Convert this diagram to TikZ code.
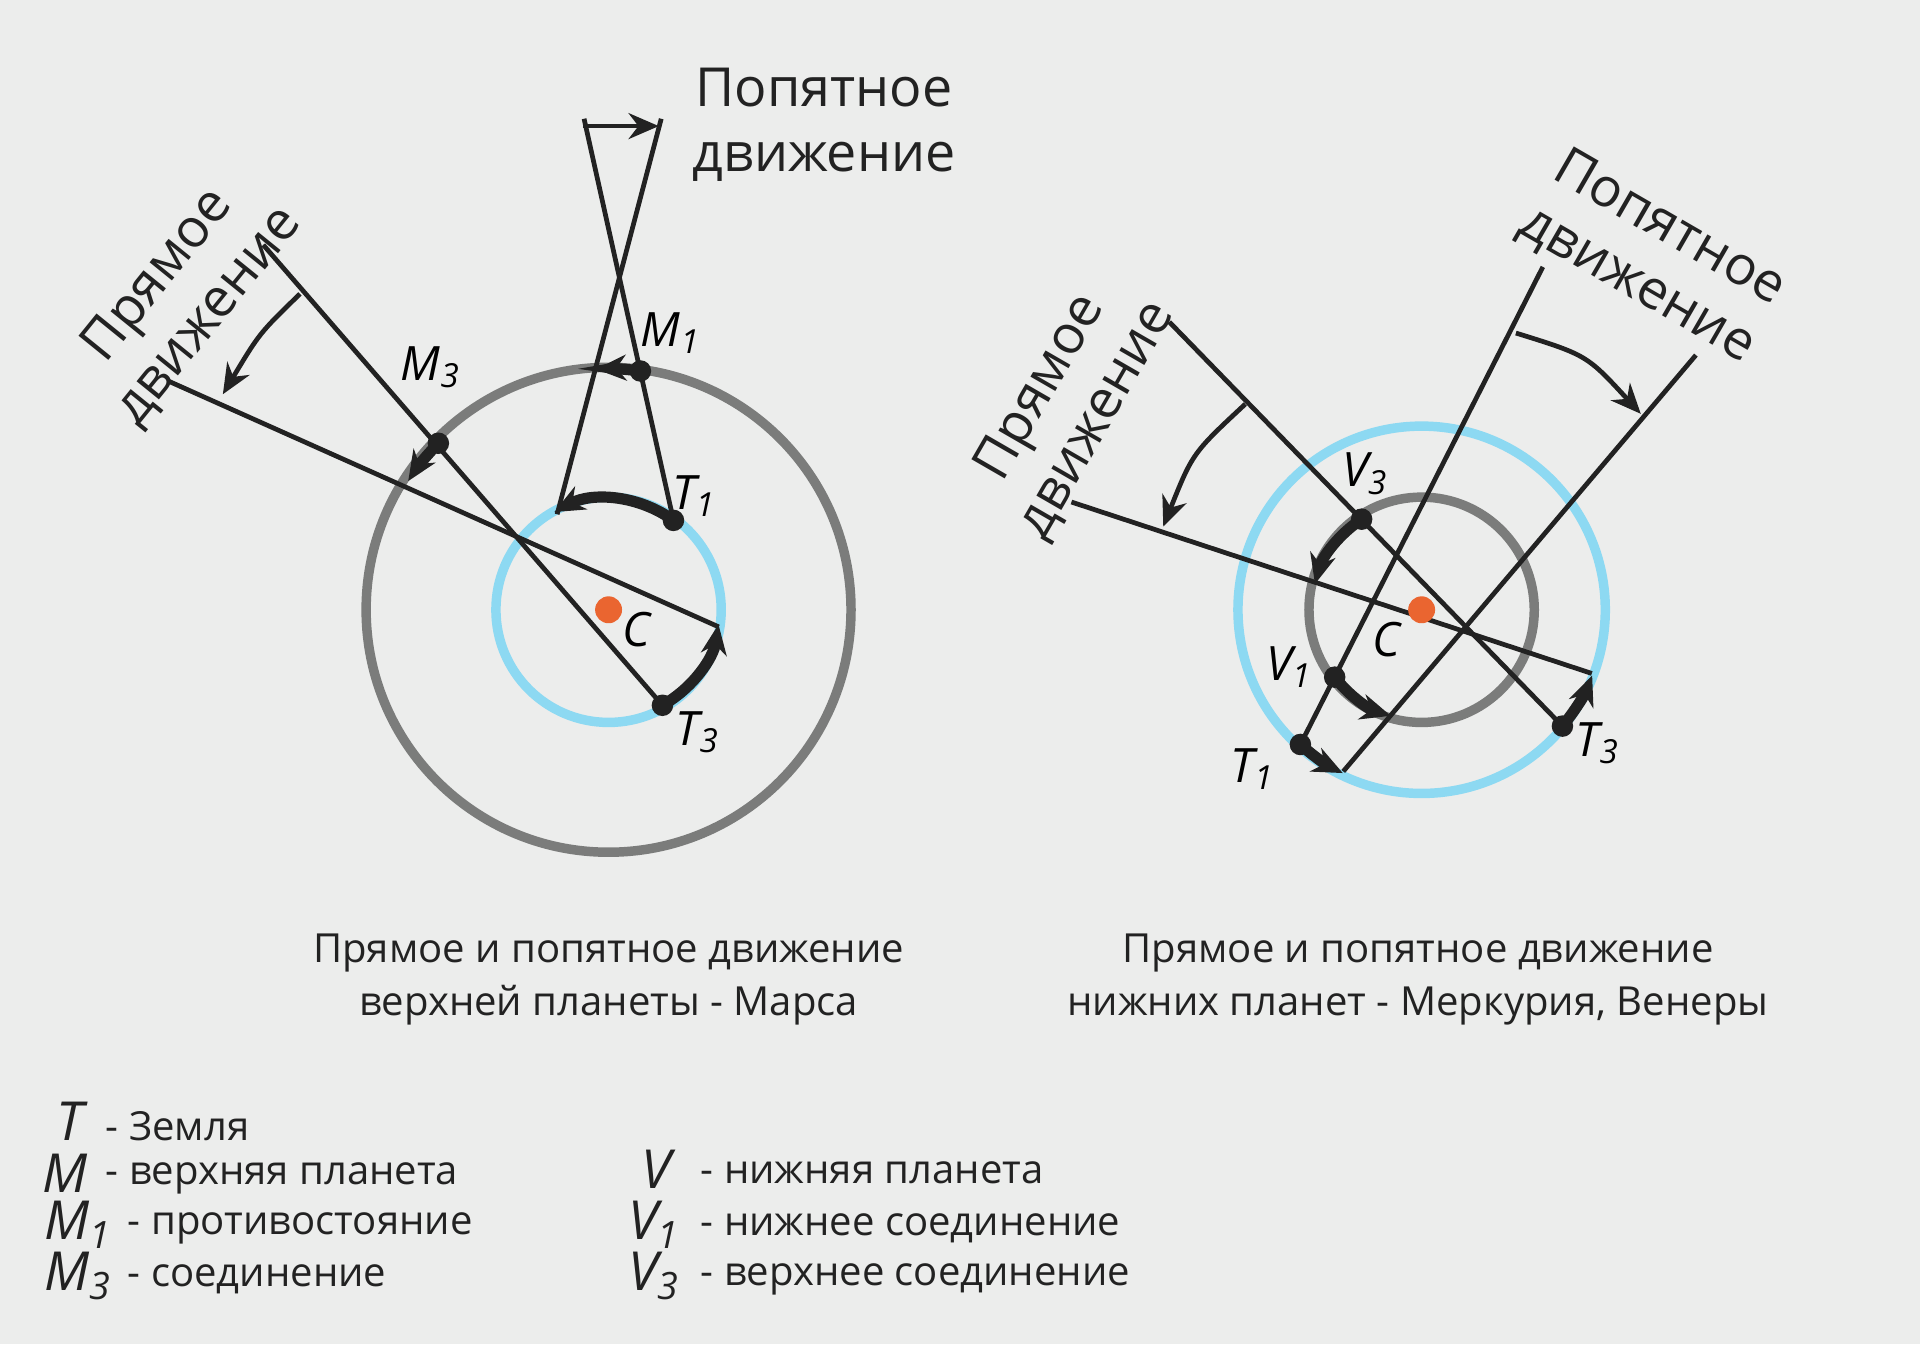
\documentclass[tikz,border=0pt]{standalone}
\usepackage{fontspec}
\setmainfont{Open Sans}
\usetikzlibrary{arrows.meta}
\definecolor{bg}{HTML}{ECEDEC}
\definecolor{sky}{HTML}{8DD9F2}
\definecolor{orb}{HTML}{7B7C7B}
\definecolor{sun}{HTML}{EA6530}
\definecolor{ink}{HTML}{222222}
\newcommand{\sbs}[1]{\textsubscript{#1}}
\begin{document}
\begin{tikzpicture}[x=0.01cm,y=-0.01cm,
  ln/.style={draw=ink,line width=1.1pt},
  thk/.style={draw=ink,line width=2.6pt,-{Stealth[length=7pt,width=6pt]}},
  swing/.style={draw=ink,line width=1.1pt,-{Stealth[length=7pt,width=6pt]}},
  dot/.style={circle,fill=ink,inner sep=0pt,minimum size=5pt},
  lab/.style={font=\fontsize{11}{13}\selectfont\itshape,inner sep=1pt},
  big/.style={font=\fontsize{12.5}{15}\selectfont,align=center,text=ink},
  captxt/.style={font=\fontsize{9.3}{12.5}\selectfont,align=center,text=ink},
  leg/.style={font=\fontsize{9.3}{10}\selectfont,anchor=west,text=ink},
  sym/.style={font=\fontsize{12.5}{13}\selectfont\itshape,anchor=east,text=ink,inner sep=1pt}]
\fill[bg] (0,0) rectangle (1568,1098);
% ---------- left diagram ----------
\coordinate (C) at (497,498);
\draw[orb,line width=2.2pt] (C) circle[radius=198];
\draw[sky,line width=2.2pt] (C) circle[radius=92];
\coordinate (T1) at (550,425); \coordinate (T3) at (541,576);
\coordinate (M1) at (523,303); \coordinate (M3) at (358,362);
\coordinate (a1) at (477,97); \coordinate (a2) at (540,97);
\coordinate (b1) at (455,420);
\coordinate (c1) at (215,200); \coordinate (c2) at (587,512); \coordinate (c3) at (137,311);
\draw[ln] (T1) -- (a1); \draw[ln] (b1) -- (a2);
\draw[ln] (T3) -- (c1); \draw[ln] (c2) -- (c3);
\draw[swing] (476,103) -- (538,103);
\draw[swing] (245,240) .. controls (212,272) .. (182,322);
\draw[thk] (M1) arc[start angle=-82.4,end angle=-92.9,radius=198];
\draw[thk] (M3) arc[start angle=-135.6,end angle=-147.3,radius=194];
\draw[thk] (T1) arc[start angle=-54,end angle=-118,radius=92];
\draw[thk] (T3) arc[start angle=60.6,end angle=8.8,radius=92];
\node[dot] at (T1) {}; \node[dot] at (T3) {}; \node[dot] at (M1) {}; \node[dot] at (M3) {};
\fill[sun] (C) circle[radius=11];
\node[lab] (lc) at (520,514) {C};
\node[lab] (lt1) at (567,405) {T\sbs{1}};
\node[lab] (lt3) at (570,598) {T\sbs{3}};
\node[lab] (lm1) at (548,272) {M\sbs{1}};
\node[lab] (lm3) at (352,300) {M\sbs{3}};
\node[big] (p1) at (673,102) {Попятное\\движение};
\node[big,rotate=51] (d1) at (150,242) {Прямое\\движение};
\node[captxt] (cap1) at (497,800) {Прямое и попятное движение\\верхней планеты - Марса};
% ---------- right diagram ----------
\coordinate (D) at (1161,498);
\draw[sky,line width=2.2pt] (D) circle[radius=150];
\draw[orb,line width=2.2pt] (D) circle[radius=92];
\coordinate (V3) at (1112,424); \coordinate (V1) at (1090,553);
\coordinate (U1) at (1062,608); \coordinate (U3) at (1276,593);
\coordinate (e1) at (955,263); \coordinate (e2) at (875,410); \coordinate (e3) at (1300,550);
\coordinate (f1) at (1260,218); \coordinate (f2) at (1097,630); \coordinate (f3) at (1385,290);
\draw[ln] (U3) -- (e1); \draw[ln] (e2) -- (e3);
\draw[ln] (U1) -- (f1); \draw[ln] (f2) -- (f3);
\draw[swing] (1017,330) .. controls (974,370) .. (950,430);
\draw[swing] (1238,272) .. controls (1296,290) .. (1340,338);
\draw[thk] (V3) arc[start angle=-123.5,end angle=-165,radius=92];
\draw[thk] (V1) arc[start angle=-217.8,end angle=-253,radius=92];
\draw[thk] (U1) arc[start angle=-228,end angle=-244,radius=150];
\draw[thk] (U3) arc[start angle=39.6,end angle=21.2,radius=150];
\node[dot] at (V3) {}; \node[dot] at (V1) {}; \node[dot] at (U1) {}; \node[dot] at (U3) {};
\fill[sun] (D) circle[radius=11];
\node[lab] (rc) at (1132,522) {C};
\node[lab] (rv3) at (1115,387) {V\sbs{3}};
\node[lab] (rv1) at (1053,545) {V\sbs{1}};
\node[lab] (rt1) at (1023,628) {T\sbs{1}};
\node[lab] (rt3) at (1305,607) {T\sbs{3}};
\node[big,rotate=-30] (p2) at (1350,210) {Попятное\\движение};
\node[big,rotate=60] (d2) at (873,330) {Прямое\\движение};
\node[captxt] (cap2) at (1158,800) {Прямое и попятное движение\\нижних планет - Меркурия, Венеры};
% ---------- legend ----------
\node[sym] (s1) at (72,916) {T}; \node[leg] (t1) at (74,920) {- Земля};
\node[sym] (s2) at (76,958) {M}; \node[leg] (t2) at (74,962) {- верхняя планета};
\node[sym] (s3) at (96,1000) {M\sbs{1}}; \node[leg] (t3) at (92,1003) {- противостояние};
\node[sym] (s4) at (96,1042) {M\sbs{3}}; \node[leg] (t4) at (92,1045) {- соединение};
\node[sym] (s5) at (552,955) {V}; \node[leg] (t5) at (560,958) {- нижняя планета};
\node[sym] (s6) at (560,1000) {V\sbs{1}}; \node[leg] (t6) at (560,1003) {- нижнее соединение};
\node[sym] (s7) at (560,1042) {V\sbs{3}}; \node[leg] (t7) at (560,1045) {- верхнее соединение};
\end{tikzpicture}
\end{document}
